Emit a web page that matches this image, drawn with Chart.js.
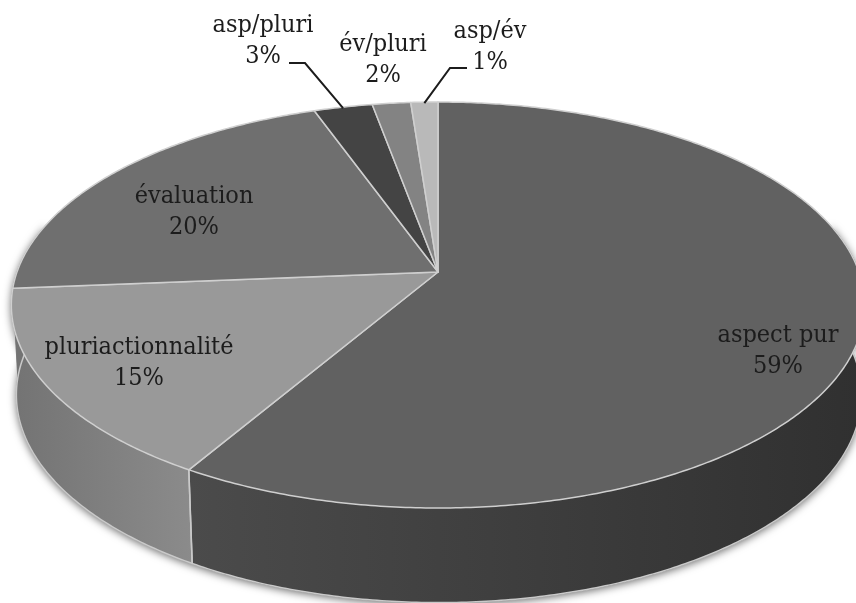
<!DOCTYPE html>
<html lang="fr">
<head>
<meta charset="utf-8">
<style>
html,body{margin:0;padding:0;background:#fff;overflow:hidden}
canvas{display:block;filter:blur(0.5px)}
</style>
<script src="https://cdn.jsdelivr.net/npm/chart.js@4/dist/chart.umd.min.js"></script>
</head>
<body>
<canvas id="c" width="856" height="603"></canvas>
<script>
const categories = ["aspect pur","pluriactionnalité","évaluation","asp/pluri","év/pluri","asp/év"];
const values = [58.5,15.2,20.8,2.6,1.7,1.2];
const percentLabels = ["59%","15%","20%","3%","2%","1%"];
const faceColors = ["#616161","#999999","#6f6f6f","#444444","#838383","#b9b9b9"];
const wallLeft = ["#4b4b4b","#737373","#737373","#3a3a3a","#777777","#999999"];
const wallRight = ["#303030","#8b8b8b","#737373","#3a3a3a","#777777","#999999"];

// Projection of the unit disc on the tilted page plane
const TOP = {cx:438, a:-153.4, b:272, c:0.1626, R:421};
const BOTTOM = {cx:439, a:-143.6, b:361, c:0.1626, R:417};
function project(p, theta){
  const u=Math.sin(theta), v=Math.cos(theta), w=1+p.c*v;
  return {x:p.cx+p.R*u/w, y:(p.a*v+p.b)/w};
}
const thetaOf = angle => angle+Math.PI/2;
function samples(t0,t1){
  const n=Math.max(2,Math.ceil((t1-t0)/0.01)), out=[];
  for(let i=0;i<=n;i++) out.push(t0+(t1-t0)*i/n);
  return out;
}
function faceDraw(ctx){
  const t0=thetaOf(this.startAngle), t1=thetaOf(this.endAngle);
  ctx.save();
  ctx.beginPath();
  ctx.moveTo(TOP.cx,TOP.b);
  samples(t0,t1).forEach(t=>{const q=project(TOP,t);ctx.lineTo(q.x,q.y);});
  ctx.closePath();
  ctx.fillStyle=this.options.backgroundColor;
  ctx.fill();
  ctx.lineWidth=this.options.borderWidth;
  ctx.strokeStyle=this.options.borderColor;
  ctx.lineJoin="round";
  ctx.stroke();
  ctx.restore();
}
function drawWalls(ctx,arcs){
  const lo=Math.PI*0.42, hi=Math.PI*1.58;
  const ranges=arcs.map((arc,i)=>{
    const s=Math.max(thetaOf(arc.startAngle),lo), e=Math.min(thetaOf(arc.endAngle),hi);
    return {s,e,i};
  }).filter(r=>r.e>r.s);
  // soft shadow under the full silhouette
  ctx.save();
  ctx.shadowColor="rgba(0,0,0,0.6)";
  ctx.shadowBlur=9;
  ctx.shadowOffsetY=2;
  ctx.fillStyle="#777";
  ctx.beginPath();
  samples(lo,hi).forEach((t,k)=>{const q=project(BOTTOM,t);k?ctx.lineTo(q.x,q.y):ctx.moveTo(q.x,q.y);});
  samples(lo,hi).reverse().forEach(t=>{const q=project(TOP,t);ctx.lineTo(q.x,q.y);});
  ctx.closePath();ctx.fill();
  ctx.restore();
  ranges.forEach(r=>{
    const ts=samples(r.s,r.e);
    const pts=ts.map(t=>project(TOP,t)), ptsB=ts.map(t=>project(BOTTOM,t));
    const xs=pts.concat(ptsB).map(q=>q.x);
    const g=ctx.createLinearGradient(Math.min(...xs),0,Math.max(...xs),0);
    g.addColorStop(0,wallLeft[r.i]);g.addColorStop(1,wallRight[r.i]);
    ctx.beginPath();
    pts.forEach((q,k)=>k?ctx.lineTo(q.x,q.y):ctx.moveTo(q.x,q.y));
    ptsB.reverse().forEach(q=>ctx.lineTo(q.x,q.y));
    ctx.closePath();
    ctx.fillStyle=g;ctx.fill();
    ctx.strokeStyle=g;ctx.lineWidth=0.6;ctx.stroke();
  });
  // pale rims and seams
  ctx.strokeStyle="#c9c9c9";ctx.lineWidth=1.5;
  ctx.beginPath();
  samples(lo,hi).forEach((t,k)=>{const q=project(BOTTOM,t);k?ctx.lineTo(q.x,q.y):ctx.moveTo(q.x,q.y);});
  ctx.stroke();
  ranges.forEach(r=>{
    [r.s,r.e].forEach(t=>{
      if(t<=lo||t>=hi||t>Math.PI*1.4)return;
      const a=project(TOP,t),b=project(BOTTOM,t);
      ctx.beginPath();ctx.moveTo(a.x,a.y);ctx.lineTo(b.x,b.y);ctx.stroke();
    });
  });
}
const labelPlaces = [
  {x:778,y:335},{x:139,y:347},{x:194,y:196},{x:263,y:25},{x:383,y:44},{x:490,y:31}
];
const LINE_GAP = 31;
const leaders = [null,null,null,{from:[289,63],elbow:[305,63]},null,{from:[467,68],elbow:[450,68]}];
const labelPlugin = {
  id:"pie3d",
  beforeDatasetsDraw(chart){
    const ctx=chart.ctx, arcs=chart.getDatasetMeta(0).data;
    drawWalls(ctx,arcs);
    arcs.forEach(a=>{a.draw=faceDraw;});
  },
  afterDatasetsDraw(chart){
    const ctx=chart.ctx, arcs=chart.getDatasetMeta(0).data;
    ctx.save();
    ctx.strokeStyle="#1c1c1c";ctx.lineWidth=2;
    leaders.forEach((l,i)=>{
      if(!l)return;
      const q=project(TOP,thetaOf((arcs[i].startAngle+arcs[i].endAngle)/2));
      ctx.beginPath();ctx.moveTo(l.from[0],l.from[1]);ctx.lineTo(l.elbow[0],l.elbow[1]);ctx.lineTo(q.x,q.y+1);ctx.stroke();
    });
    ctx.fillStyle="#1c1c1c";
    ctx.textAlign="center";ctx.textBaseline="middle";
    ctx.font='25px "DejaVu Serif Condensed","DejaVu Serif",serif';
    categories.forEach((name,i)=>{
      const p=labelPlaces[i];
      ctx.fillText(name,p.x,p.y);
      ctx.fillText(percentLabels[i],p.x,p.y+LINE_GAP);
    });
    ctx.restore();
  }
};
new Chart(document.getElementById("c"),{
  type:"pie",
  data:{labels:categories,datasets:[{data:values,backgroundColor:faceColors,borderColor:"#cfcfcf",borderWidth:1.5,clip:false}]},
  options:{responsive:false,animation:false,devicePixelRatio:1,
    plugins:{legend:{display:false},tooltip:{enabled:false}}},
  plugins:[labelPlugin]
});
</script>
</body>
</html>
